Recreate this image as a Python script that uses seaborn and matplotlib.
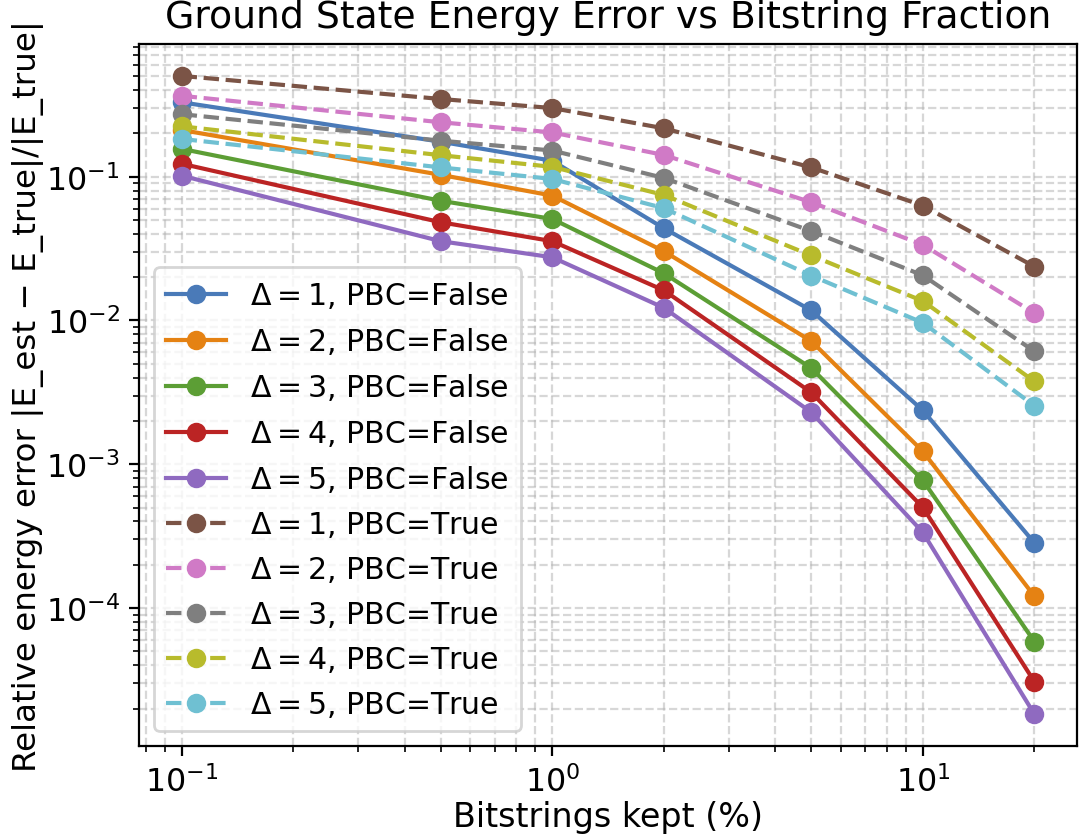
import matplotlib
matplotlib.use("Agg")
import matplotlib.pyplot as plt
import seaborn as sns
import pandas as pd

# ---- data ----
bitstrings_kept = [0.1, 0.5, 1, 2, 5, 10, 20]
deltas = [1, 2, 3, 4, 5]

err_pbc_false = {
    1: [0.329, 0.175, 0.129, 0.0438, 0.01175, 0.00237, 0.000284],
    2: [0.211, 0.103, 0.0738, 0.0303, 0.00719, 0.00123, 0.000121],
    3: [0.156, 0.068, 0.0508, 0.0213, 0.00467, 0.000774, 5.85e-5],
    4: [0.123, 0.0482, 0.0356, 0.0162, 0.00316, 0.000501, 3.08e-5],
    5: [0.1016, 0.0356, 0.0275, 0.01225, 0.0023, 0.000336, 1.83e-5],
}
err_pbc_true = {
    1: [0.502, 0.347, 0.300, 0.217, 0.116, 0.0629, 0.0237],
    2: [0.365, 0.239, 0.203, 0.1415, 0.0664, 0.0336, 0.01125],
    3: [0.272, 0.178, 0.152, 0.098, 0.0418, 0.0206, 0.0061],
    4: [0.224, 0.141, 0.117, 0.0746, 0.0283, 0.01365, 0.00377],
    5: [0.183, 0.116, 0.0964, 0.0604, 0.0205, 0.00964, 0.00255],
}

title = "Ground State Energy Error vs Bitstring Fraction"
xlabel = "Bitstrings kept (%)"
ylabel = "Relative energy error |E_est \u2212 E_true|/|E_true|"

colors = ["#4a7ab8", "#e58213", "#5c9e35", "#bb2424", "#8f6ac0",
          "#7b5446", "#d07ac6", "#7f7f7f", "#b8bb2c", "#6fc0d2"]

# ---- plot ----
fig = plt.figure(figsize=(1081 / 200, 837 / 200), dpi=200)
ax = fig.add_axes([139 / 1081, 1 - 747 / 837, (1077 - 139) / 1081, (747 - 45) / 837])

palette = sns.color_palette(colors)
ci = 0
for pbc, table, ls in [(False, err_pbc_false, "-"), (True, err_pbc_true, "--")]:
    for d in deltas:
        df = pd.DataFrame({"x": bitstrings_kept, "y": table[d]})
        sns.lineplot(data=df, x="x", y="y", ax=ax, color=palette[ci],
                     marker="o", markersize=6, markeredgewidth=1,
                     markeredgecolor=palette[ci], linestyle=ls, linewidth=1.5,
                     label=rf"$\Delta={d}$, PBC={pbc}")
        ci += 1

ax.set_xscale("log")
ax.set_yscale("log")
ax.grid(True, which="both", linestyle="--", alpha=0.5)
ax.tick_params(axis="both", which="major", labelsize=11.4)
ax.set_title(title, fontsize=13.6)
ax.set_xlabel(xlabel, fontsize=12, labelpad=0.5)
ax.set_ylabel(ylabel, fontsize=11.7, labelpad=0.5)
ax.legend(loc="lower left", fontsize=10.8)

fig.savefig("out.png", dpi=200)
